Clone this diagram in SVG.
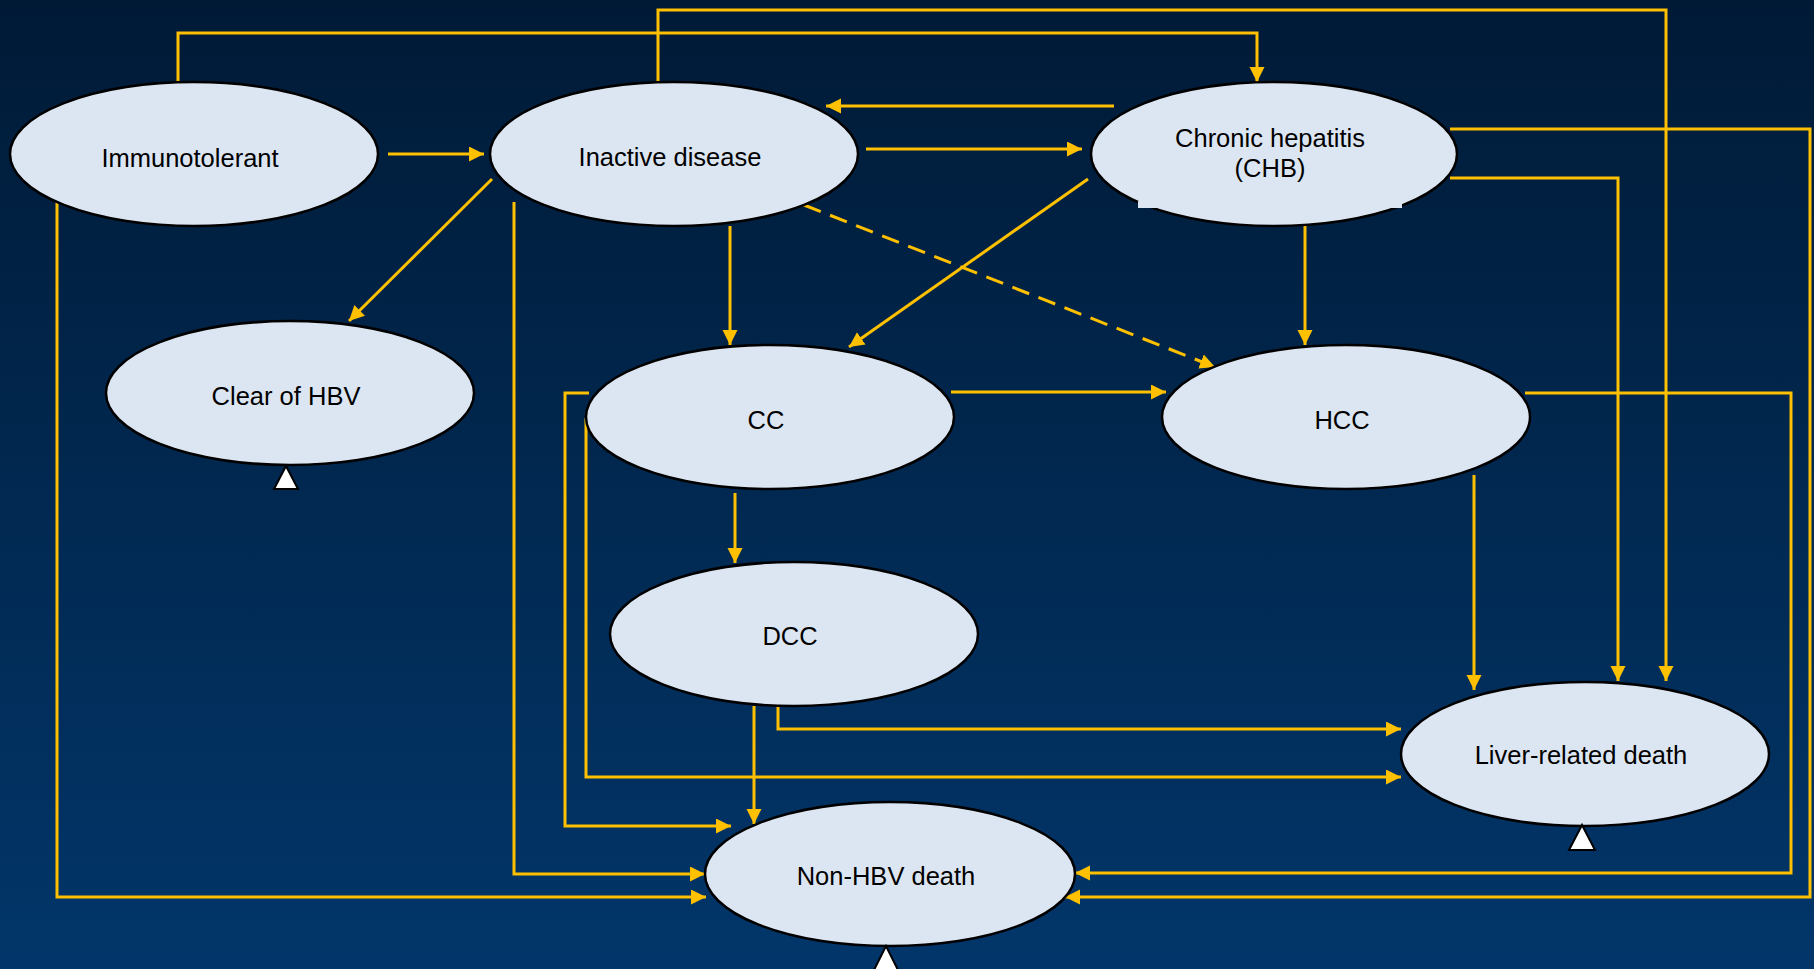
<svg xmlns="http://www.w3.org/2000/svg" width="1814" height="969" viewBox="0 0 1814 969">
<defs>
<linearGradient id="bg" x1="0" y1="0" x2="0" y2="1">
<stop offset="0" stop-color="#001a36"/>
<stop offset="1" stop-color="#02366a"/>
</linearGradient>
<marker id="ah" markerUnits="userSpaceOnUse" markerWidth="16" markerHeight="16" refX="15" refY="7.5" orient="auto">
<path d="M0,0 L15,7.5 L0,15 z" fill="#ffc000"/>
</marker>
<style>
.n{fill:#dce6f2;stroke:#000;stroke-width:2.5}
.t{font-family:"Liberation Sans",Arial,sans-serif;font-size:25.5px;fill:#000;text-anchor:middle}
.c{fill:none;stroke:#ffc000;stroke-width:3}
.a{marker-end:url(#ah)}
.d{stroke-dasharray:18 10}
.tri{fill:#fff;stroke:#000;stroke-width:2}
</style>
</defs>
<rect width="1814" height="969" fill="url(#bg)"/>
<g id="connectors">
<path class="c a" d="M178,82 V33 H1257 V82"/>
<path class="c a" d="M658,82 V10 H1666 V681"/>
<path class="c a" d="M388,154 H484"/>
<path class="c a" d="M1114,106 H826"/>
<path class="c a" d="M866,149 H1082"/>
<path class="c a" d="M492,179 L349,321"/>
<path class="c a" d="M514,202 V874 H705"/>
<path class="c a" d="M57,202 V897 H706"/>
<path class="c a" d="M730,226 V345"/>
<path class="c a d" d="M804,205 L1215,367"/>
<path class="c a" d="M1088,179 L849,347"/>
<path class="c a" d="M1305,226 V345"/>
<path class="c a" d="M1450,129 H1810 V897 H1065"/>
<path class="c a" d="M1450,178 H1618 V681"/>
<path class="c a" d="M1525,393 H1791 V873 H1075"/>
<path class="c a" d="M1474,475 V690"/>
<path class="c a" d="M951,392 H1166"/>
<path class="c a" d="M735,493 V563"/>
<path class="c a" d="M589,393 H565 V826 H731"/>
<path class="c a" d="M586,418 V777 H1401"/>
<path class="c a" d="M778,706 V729 H1401"/>
<path class="c a" d="M754,706 V824"/>
</g>
<g id="immunotolerant">
<ellipse class="n" cx="194" cy="154" rx="184" ry="72"/>
<text class="t" x="190" y="167">Immunotolerant</text>
</g>
<g id="inactive">
<ellipse class="n" cx="674" cy="154" rx="184" ry="72"/>
<text class="t" x="670" y="166">Inactive disease</text>
</g>
<g id="chb">
<ellipse class="n" cx="1274" cy="154" rx="183" ry="72"/>
<rect x="1138" y="201" width="264" height="7" fill="#dce6f2"/>
<text class="t" x="1270" y="147">Chronic hepatitis</text>
<text class="t" x="1270" y="177">(CHB)</text>
</g>
<g id="clear">
<ellipse class="n" cx="290" cy="393" rx="184" ry="72"/>
<text class="t" x="286" y="405">Clear of HBV</text>
<path class="tri" d="M286,466 L298,489 L274,489 z"/>
</g>
<g id="cc">
<ellipse class="n" cx="770" cy="417" rx="184" ry="72"/>
<text class="t" x="766" y="429">CC</text>
</g>
<g id="hcc">
<ellipse class="n" cx="1346" cy="417" rx="184" ry="72"/>
<text class="t" x="1342" y="429">HCC</text>
</g>
<g id="dcc">
<ellipse class="n" cx="794" cy="634" rx="184" ry="72"/>
<text class="t" x="790" y="645">DCC</text>
</g>
<g id="liver">
<ellipse class="n" cx="1585" cy="754" rx="184" ry="72"/>
<text class="t" x="1581" y="764">Liver-related death</text>
<path class="tri" d="M1582,825 L1595,850 L1569,850 z"/>
</g>
<g id="nonhbv">
<ellipse class="n" cx="890" cy="874" rx="185" ry="72"/>
<text class="t" x="886" y="885">Non-HBV death</text>
<path class="tri" d="M886,946 L899,972 L873,972 z"/>
</g>
</svg>
